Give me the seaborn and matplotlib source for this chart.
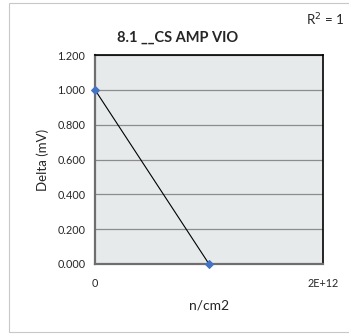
import numpy as np
import pandas as pd
import matplotlib
matplotlib.use('Agg')
import matplotlib.pyplot as plt
import seaborn as sns
from matplotlib.patches import Rectangle

# 데이터
fluence = [0.0, 1e12]
delta_mv = [1.000, 0.000]
y_ticks = [0.0, 0.2, 0.4, 0.6, 0.8, 1.0, 1.2]
x_ticks = [0.0, 2e12]
x_tick_labels = ['0', '2E+12']

df = pd.DataFrame({'n/cm2': fluence, 'Delta (mV)': delta_mv})

sns.set_style('white')
plt.rcParams['font.family'] = ['Lato', 'DejaVu Sans']

fig = plt.figure(figsize=(3.49, 3.35), dpi=100)
fig.patches.append(Rectangle((9 / 349, 3 / 335), 1.0, 329 / 335, transform=fig.transFigure,
                             fill=False, edgecolor='#C8C8C8', linewidth=0.8))

ax = fig.add_axes([95 / 349, 71 / 335, 228 / 349, 209 / 335])
ax.set_facecolor('#E6EAEA')

sns.lineplot(data=df, x='n/cm2', y='Delta (mV)', ax=ax, color='black', linewidth=0.8,
             marker='D', markersize=4.5, markerfacecolor='#4472C4', markeredgecolor='#4472C4',
             zorder=3, clip_on=False)

ax.set_xlim(0, 2e12)
ax.set_ylim(0, 1.2)
ax.set_yticks(y_ticks)
ax.set_yticklabels([f'{v:.3f}' for v in y_ticks], fontsize=7.8)
ax.set_xticks(x_ticks)
ax.set_xticklabels(x_tick_labels, fontsize=7.8)
ax.yaxis.grid(True, color='#8C8C8C', linewidth=0.9)
ax.set_axisbelow(True)
ax.tick_params(axis='both', length=3, width=0.8, color='#8C8C8C', pad=4, direction='out')
ax.tick_params(axis='x', pad=7)

for side in ['top', 'right']:
    ax.spines[side].set_color('black')
    ax.spines[side].set_linewidth(1.2)
for side in ['left', 'bottom']:
    ax.spines[side].set_color('#6E6E6E')
    ax.spines[side].set_linewidth(1.6)

ax.set_xlabel('n/cm2', fontsize=10, labelpad=8)
ax.set_ylabel('Delta (mV)', fontsize=9.5, labelpad=6)

fig.text(178 / 349, 1 - 38 / 335, '8.1 __CS AMP VIO', fontsize=10.5, fontweight='bold',
         ha='center', va='center')
fig.text(306 / 349, 1 - 20 / 335, 'R$^2$ = 1', fontsize=9.5, ha='left', va='center')

plt.savefig('out.png', dpi=100)
